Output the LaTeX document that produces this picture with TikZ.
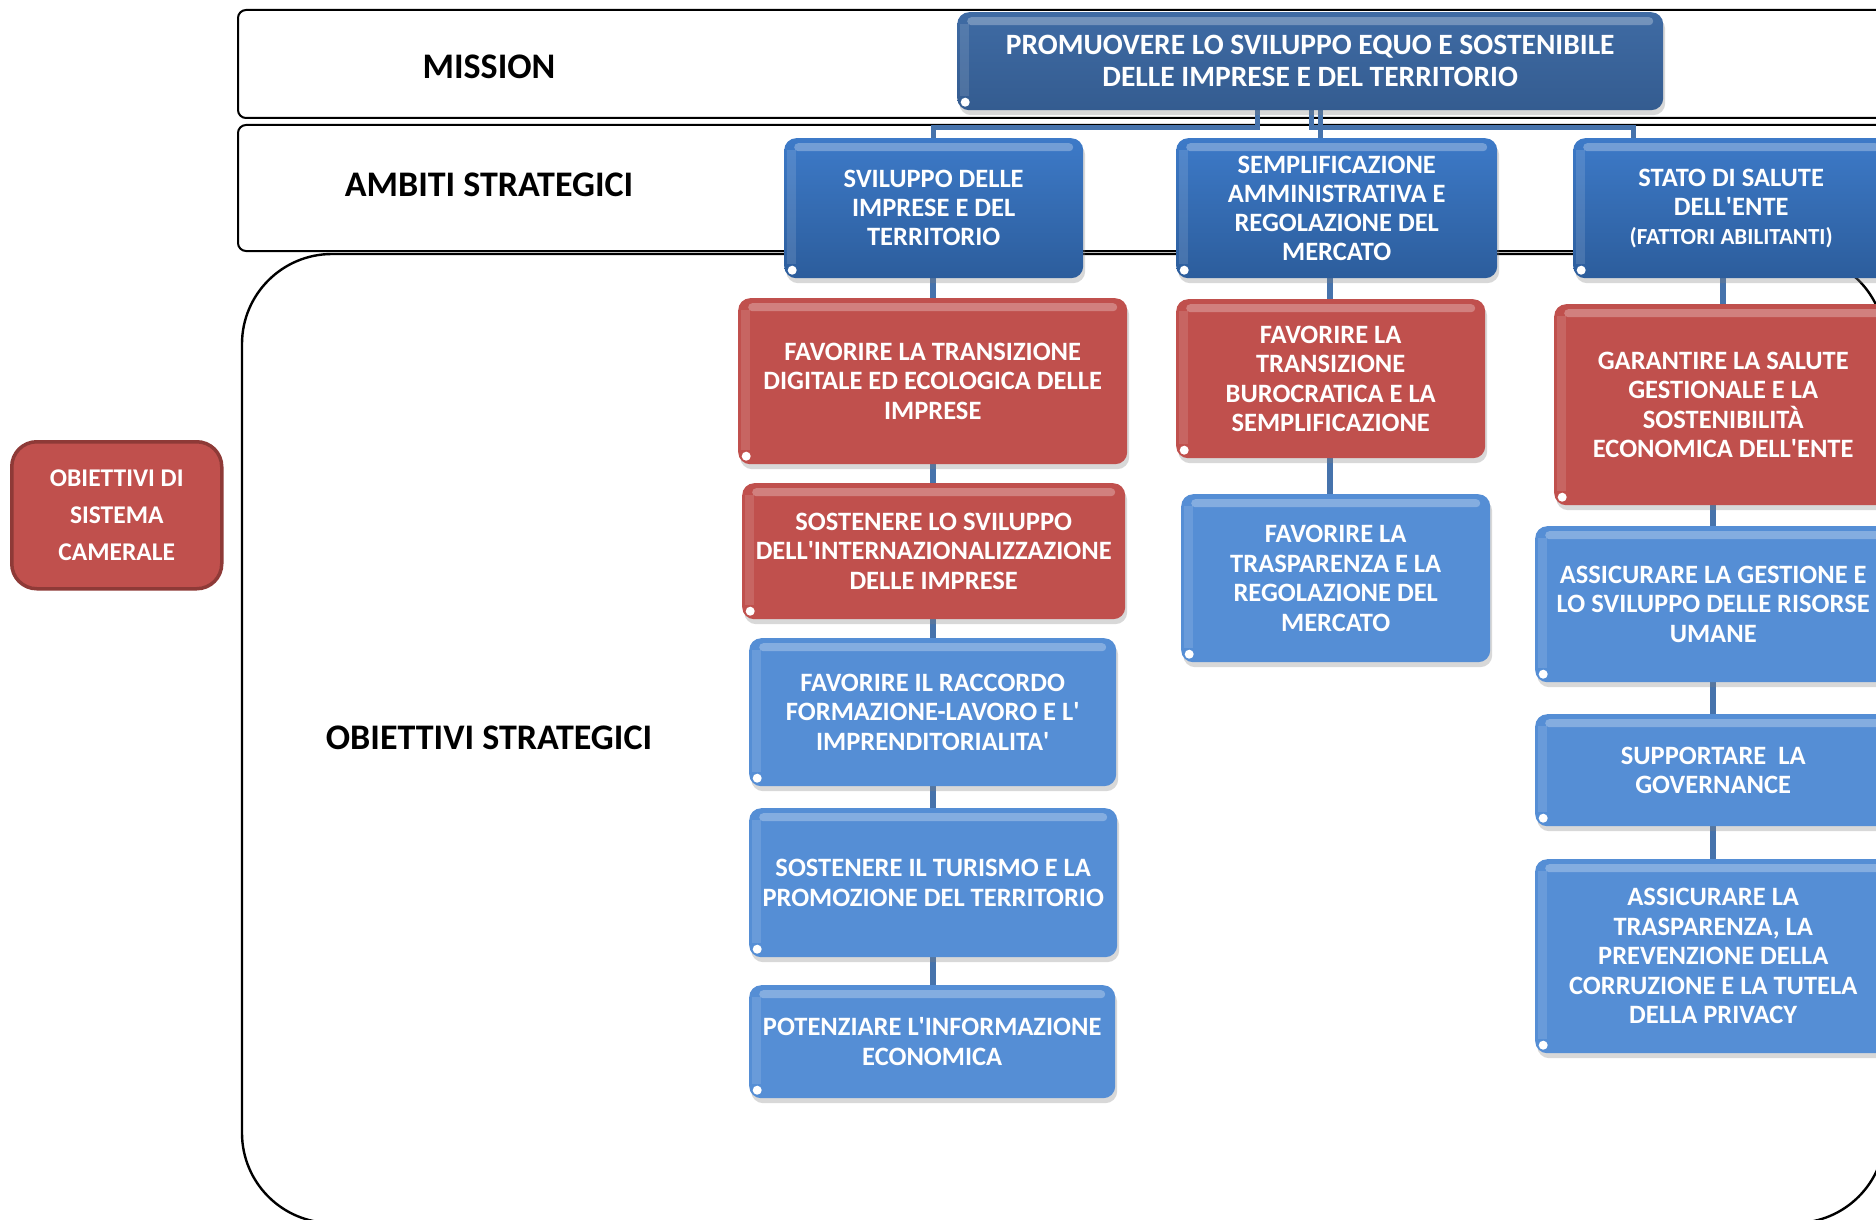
\documentclass[tikz,border=0pt]{standalone}
\usepackage{fontspec}
\setmainfont{Carlito}
\usetikzlibrary{shadows,calc}
\pgfdeclarelayer{bg}
\pgfsetlayers{bg,main}
\definecolor{cRed}{HTML}{C0504D}
\definecolor{cRedDk}{HTML}{8E3A37}
\definecolor{cBlue}{HTML}{558ED5}
\definecolor{cAmbTop}{HTML}{3D7AC8}
\definecolor{cAmbBot}{HTML}{2C5D9C}
\definecolor{cMisTop}{HTML}{3F6BA4}
\definecolor{cMisBot}{HTML}{345C90}
\definecolor{cConn}{HTML}{4673AC}
\newcommand\myq{\textquotesingle}
\tikzset{
 gloss/.style={path picture={
   \fill[white,opacity=0.28,rounded corners=4pt] ([xshift=10pt,yshift=-5pt]path picture bounding box.north west) rectangle ([xshift=-10pt,yshift=-13pt]path picture bounding box.north east);
   \fill[white,opacity=0.12,sharp corners] ([xshift=3pt,yshift=-12pt]path picture bounding box.north west) rectangle ([xshift=12pt,yshift=14pt]path picture bounding box.south west);
   \fill[white,sharp corners] ([xshift=8pt,yshift=8pt]path picture bounding box.south west) circle (4.5pt);
 }},
 basebox/.style={rounded corners=12pt, align=center, text=white, font=\fontsize{26.5}{29.5}\selectfont\bfseries, inner sep=0pt, anchor=north west, drop shadow={shadow xshift=2pt, shadow yshift=-5pt, opacity=0.3}, gloss},
 redbox/.style={basebox, fill=cRed},
 bluebox/.style={basebox, fill=cBlue},
 ambbox/.style={basebox, top color=cAmbTop, bottom color=cAmbBot, font=\fontsize{26.5}{29}\selectfont\bfseries},
 misbox/.style={basebox, top color=cMisTop, bottom color=cMisBot, font=\fontsize{29.5}{32}\selectfont\bfseries},
 sysbox/.style={rounded corners=25pt, fill=cRed, draw=cRedDk, line width=3.5pt, align=center, text=white, font=\fontsize{25.5}{37}\selectfont\bfseries, inner sep=0pt, anchor=north west},
 conn/.style={draw=cConn, line width=6pt},
 mconn/.style={draw=cConn, line width=5pt},
 band/.style={draw=black, line width=2pt, rounded corners=8pt},
 lbl/.style={font=\fontsize{36}{40}\selectfont\bfseries, text=black, inner sep=0pt}
}
\begin{document}
\begin{tikzpicture}[x=1pt,y=-1pt]
\useasboundingbox (0,0) rectangle (1876,1220);

\begin{pgfonlayer}{bg}
\fill[white] (0,0) rectangle (1876,1220);
\draw[band] (238,10) rectangle (1910,118);
\draw[band] (238,125) rectangle (1910,251);
\draw[draw=black, line width=2.4pt, rounded corners=90pt] (242,254) rectangle (1885,1223);
\end{pgfonlayer}

% labels
\node[lbl] (lmis) at (489,67) {MISSION};
\node[lbl] (lamb) at (489,185) {AMBITI STRATEGICI};
\node[lbl] (lobi) at (489,738) {OBIETTIVI STRATEGICI};

\node[sysbox, minimum width=210pt, minimum height=147pt] (sys) at (10,440) {OBIETTIVI DI\\SISTEMA\\CAMERALE};

% mission
\node[misbox, minimum width=706pt, minimum height=98pt] (m) at (957,12) {PROMUOVERE LO SVILUPPO EQUO E SOSTENIBILE\\DELLE IMPRESE E DEL TERRITORIO};

% ambiti
\node[ambbox, minimum width=299pt, minimum height=140pt] (a1) at (784,138) {SVILUPPO DELLE\\IMPRESE E DEL\\TERRITORIO};
\node[ambbox, minimum width=321pt, minimum height=140pt] (a2) at (1176,138) {SEMPLIFICAZIONE\\AMMINISTRATIVA E\\REGOLAZIONE DEL\\MERCATO};
\node[ambbox, minimum width=316pt, minimum height=140pt] (a3) at (1573,138) {STATO DI SALUTE\\DELL\myq ENTE\\{\fontsize{23}{29}\selectfont (FATTORI ABILITANTI)}};

% column 1
\node[redbox, minimum width=389pt, minimum height=166pt] (o11) at (738,298) {FAVORIRE LA TRANSIZIONE\\DIGITALE ED ECOLOGICA DELLE\\IMPRESE};
\node[redbox, minimum width=383pt, minimum height=136pt] (o12) at (742,483) {SOSTENERE LO SVILUPPO\\DELL\myq INTERNAZIONALIZZAZIONE\\DELLE IMPRESE};
\node[bluebox, minimum width=367pt, minimum height=148pt] (o13) at (749,638) {FAVORIRE IL RACCORDO\\FORMAZIONE-LAVORO E L\myq\\IMPRENDITORIALITA\myq};
\node[bluebox, minimum width=368pt, minimum height=149pt] (o14) at (749,808) {SOSTENERE IL TURISMO E LA\\PROMOZIONE DEL TERRITORIO};
\node[bluebox, minimum width=366pt, minimum height=113pt] (o15) at (749,985) {POTENZIARE L\myq INFORMAZIONE\\ECONOMICA};

% column 2
\node[redbox, minimum width=309pt, minimum height=159pt] (o21) at (1176,299) {FAVORIRE LA\\TRANSIZIONE\\BUROCRATICA E LA\\SEMPLIFICAZIONE};
\node[bluebox, minimum width=309pt, minimum height=168pt] (o22) at (1181,494) {FAVORIRE LA\\TRASPARENZA E LA\\REGOLAZIONE DEL\\MERCATO};

% column 3
\node[redbox, minimum width=338pt, minimum height=201pt] (o31) at (1554,304) {GARANTIRE LA SALUTE\\GESTIONALE E LA\\SOSTENIBILITÀ\\ECONOMICA DELL\myq ENTE};
\node[bluebox, minimum width=356pt, minimum height=156pt] (o32) at (1535,526) {ASSICURARE LA GESTIONE E\\LO SVILUPPO DELLE RISORSE\\UMANE};
\node[bluebox, minimum width=356pt, minimum height=112pt] (o33) at (1535,714) {SUPPORTARE~~LA\\GOVERNANCE};
\node[bluebox, minimum width=356pt, minimum height=194pt] (o34) at (1535,859) {ASSICURARE LA\\TRASPARENZA, LA\\PREVENZIONE DELLA\\CORRUZIONE E LA TUTELA\\DELLA PRIVACY};

% connectors
\coordinate (bar) at (1300,128);
\coordinate (m1) at ([xshift=-53pt]m.south);
\coordinate (m2) at ([xshift=1pt]m.south);
\coordinate (m3) at ([xshift=10pt]m.south);
\coordinate (a3in) at ([xshift=-98pt]a3.north);
\coordinate (c1) at (933,0);
\coordinate (c2) at (1330,0);
\begin{pgfonlayer}{bg}
\draw[mconn] (m1) -- (m1 |- bar) -| (a1.north);
\draw[mconn] (m2) -- (m2 |- bar) -| (a3in);
\draw[mconn] (m3) -- (m3 |- a2.north);
\draw[conn] (c1 |- a1.south) -- (c1 |- o11.north);
\draw[conn] (c1 |- o11.south) -- (c1 |- o12.north);
\draw[conn] (c1 |- o12.south) -- (c1 |- o13.north);
\draw[conn] (c1 |- o13.south) -- (c1 |- o14.north);
\draw[conn] (c1 |- o14.south) -- (c1 |- o15.north);
\draw[conn] (c2 |- a2.south) -- (c2 |- o21.north);
\draw[conn] (c2 |- o21.south) -- (c2 |- o22.north);
\draw[conn] (o31.north |- a3.south) -- (o31.north);
\draw[conn] (o32.north |- o31.south) -- (o32.north);
\draw[conn] (o32.south) -- (o33.north);
\draw[conn] (o33.south) -- (o34.north);
\end{pgfonlayer}
\end{tikzpicture}
\end{document}
